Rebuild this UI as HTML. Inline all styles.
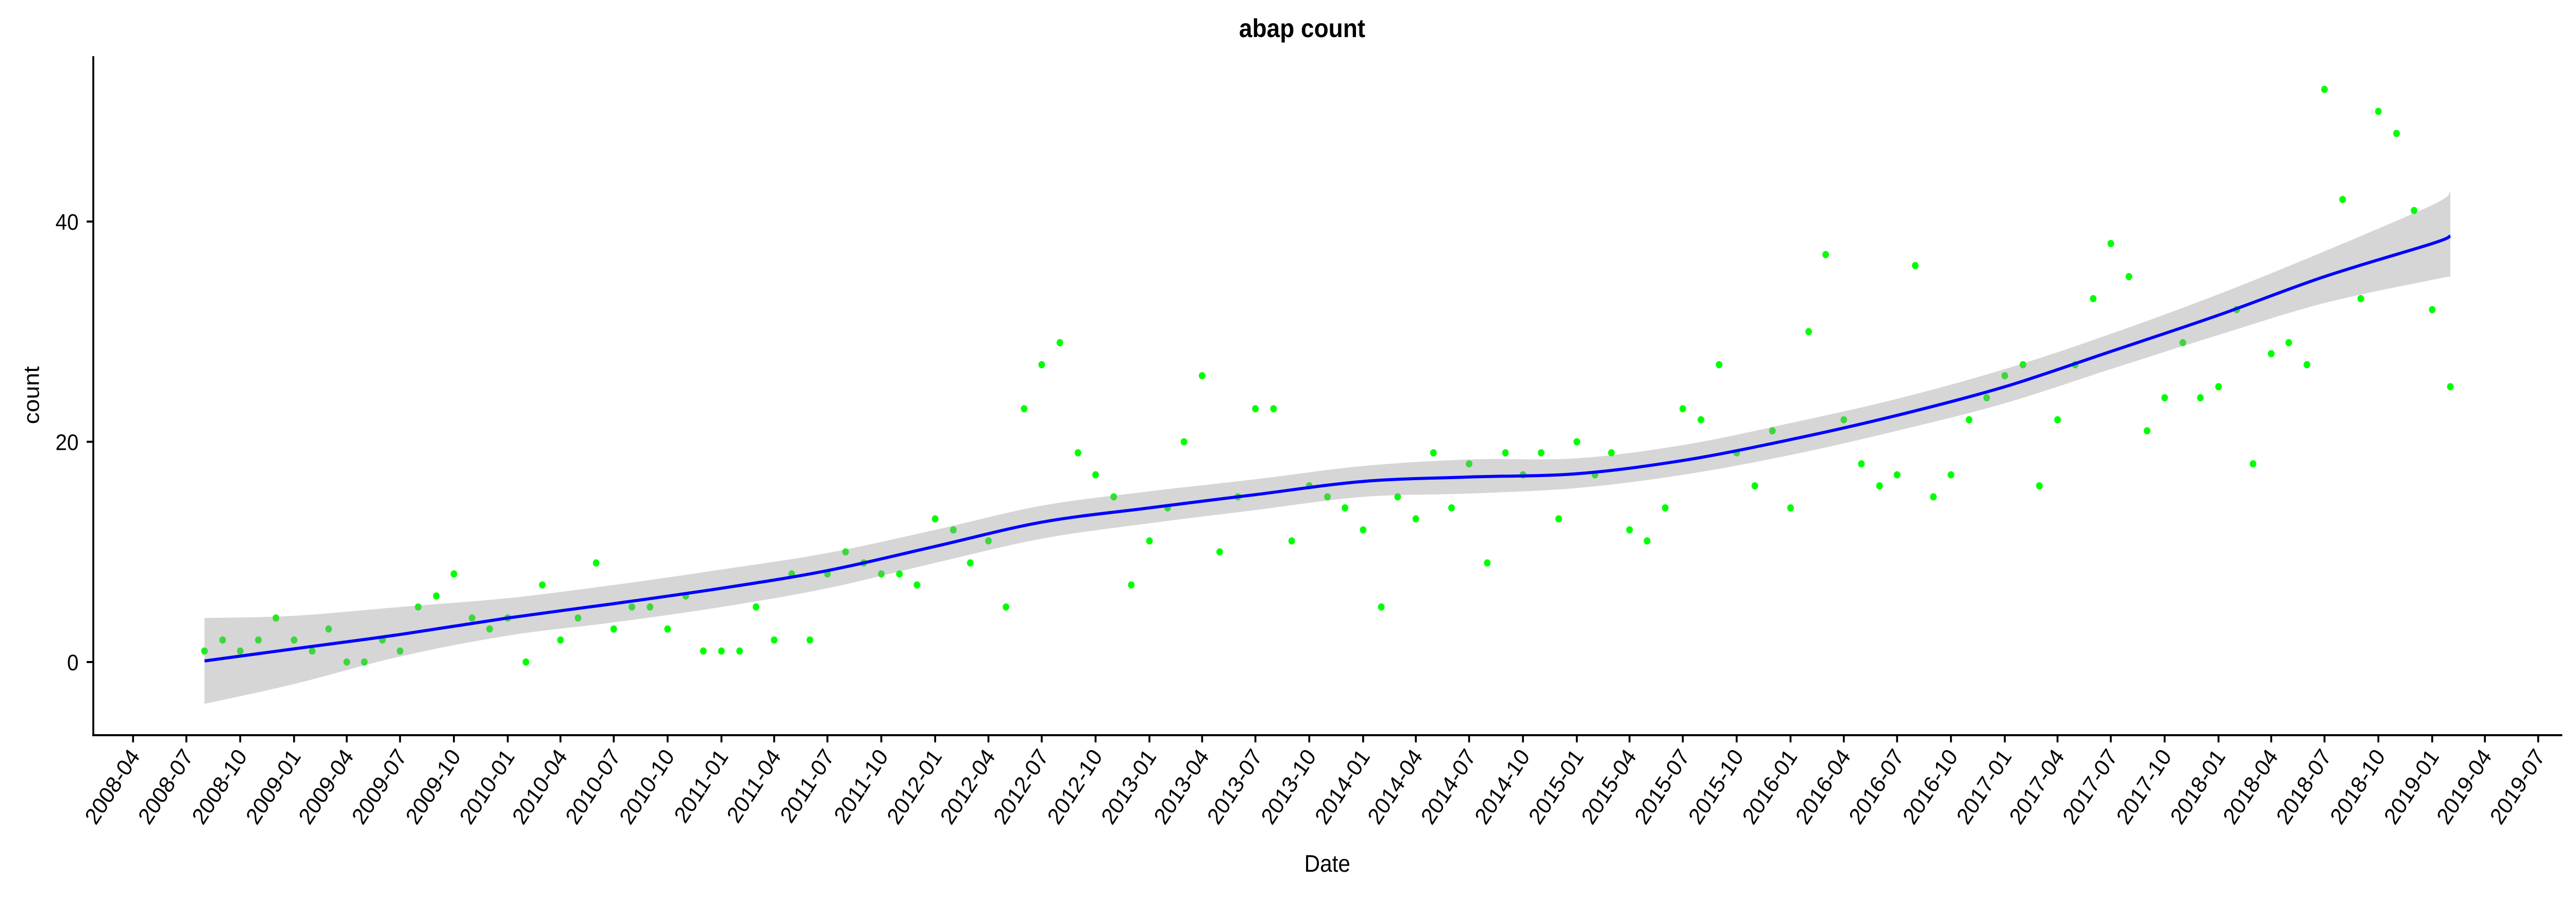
<!DOCTYPE html>
<html><head><meta charset="utf-8"><style>
html,body{margin:0;padding:0;background:#fff;width:100%;height:100%;overflow:hidden;}
svg{display:block;font-family:"Liberation Sans",sans-serif;width:100vw;height:100vh;}
</style></head><body>
<svg id="chart" viewBox="0 0 5440 1743" preserveAspectRatio="none" xmlns="http://www.w3.org/2000/svg">
<text x="2750" y="72" font-size="50" font-weight="bold" text-anchor="middle">abap count</text>
<text transform="translate(82,767) rotate(-90)" font-size="46" text-anchor="middle">count</text>
<text x="2803" y="1692" font-size="46" text-anchor="middle">Date</text>
<g id="points"></g>
<g id="band"></g>
<g id="line"></g>
<g id="axes"></g>
</svg>
<script>
const startMonth = "2008-08";
const counts = [1,2,1,2,4,2,1,3,0,0,2,1,5,6,8,4,3,4,0,7,2,4,9,3,5,5,3,6,1,1,1,5,2,8,2,8,10,9,8,8,7,13,12,9,11,5,23,27,29,19,17,15,7,11,14,20,26,10,15,23,23,11,16,15,14,12,5,15,13,19,14,18,9,19,17,19,13,20,17,19,12,11,14,23,22,27,19,16,21,14,30,37,22,18,16,17,36,15,17,22,24,26,27,16,22,27,33,38,35,21,24,29,24,25,32,18,28,29,27,52,42,33,50,48,41,32,25];
const fitDates = ["2008-08-01","2009-01-01","2009-07-01","2010-01-01","2010-07-01","2011-01-01","2011-07-01","2012-01-01","2012-07-01","2013-01-01","2013-07-01","2014-01-01","2014-07-01","2015-01-01","2015-07-01","2016-01-01","2016-07-01","2017-01-01","2017-07-01","2018-01-01","2018-07-01","2019-01-01","2019-02-01"];
const fitValues = [0.1,1.2,2.5,4.0,5.3,6.7,8.3,10.5,12.7,14.0,15.2,16.4,16.8,17.1,18.3,20.2,22.4,25.0,28.2,31.5,35.0,38.0,38.7];
const fitLower = [-3.8,-2.0,0.5,2.4,3.6,5.0,6.7,9.0,11.2,12.6,13.8,15.0,15.3,15.8,17.0,18.8,21.0,23.5,26.6,29.7,32.6,34.7,35.0];
const fitUpper = [4.0,4.2,5.0,5.8,7.0,8.4,9.9,12.0,14.2,15.5,16.6,17.8,18.4,18.5,19.7,21.7,23.9,26.6,29.8,33.4,37.3,41.5,42.7];
const xTickLabels = ["2008-04","2008-07","2008-10","2009-01","2009-04","2009-07","2009-10","2010-01","2010-04","2010-07","2010-10","2011-01","2011-04","2011-07","2011-10","2012-01","2012-04","2012-07","2012-10","2013-01","2013-04","2013-07","2013-10","2014-01","2014-04","2014-07","2014-10","2015-01","2015-04","2015-07","2015-10","2016-01","2016-04","2016-07","2016-10","2017-01","2017-04","2017-07","2017-10","2018-01","2018-04","2018-07","2018-10","2019-01","2019-04","2019-07"];
const yTickValues = [0,20,40];

const NS="http://www.w3.org/2000/svg";
const day=86400000, t0=Date.UTC(2008,3,1);
function xScale(d){const [y,m,dd]=d.split("-").map(Number);return 281+(Date.UTC(y,m-1,dd||1)-t0)/day*1.2364;}
function yScale(v){return 1285-v*21.375;}
function mk(tag,attrs,parent){const e=document.createElementNS(NS,tag);for(const k in attrs)e.setAttribute(k,attrs[k]);parent.appendChild(e);return e;}

const gp=document.getElementById("points");
const [sy,sm]=startMonth.split("-").map(Number);
counts.forEach((c,i)=>{
  const mo=sm-1+i, yy=sy+Math.floor(mo/12), mm=mo%12+1;
  const d=yy+"-"+String(mm).padStart(2,"0")+"-01";
  const e=mk("circle",{cx:xScale(d),cy:yScale(c),r:7,fill:"#00ff00"},gp);
  
  
});

function smoothPath(pts){
  let s="M"+pts[0][0]+","+pts[0][1];
  for(let i=0;i<pts.length-1;i++){
    const p0=pts[Math.max(0,i-1)],p1=pts[i],p2=pts[i+1],p3=pts[Math.min(pts.length-1,i+2)];
    const c1=[p1[0]+(p2[0]-p0[0])/6,p1[1]+(p2[1]-p0[1])/6];
    const c2=[p2[0]-(p3[0]-p1[0])/6,p2[1]-(p3[1]-p1[1])/6];
    s+=" C"+c1+" "+c2+" "+p2;
  }
  return s;
}
const up=fitDates.map((d,i)=>[xScale(d),yScale(fitUpper[i])]);
const lo=fitDates.map((d,i)=>[xScale(d),yScale(fitLower[i])]).reverse();
const bandPath=smoothPath(up)+" L"+lo[0]+smoothPath(lo).replace(/^M[^ ]+/,"")+" Z";
const band=mk("path",{d:bandPath,fill:"#999999","fill-opacity":0.4,stroke:"none"},document.getElementById("band"));


const fl=mk("path",{d:smoothPath(fitDates.map((d,i)=>[xScale(d),yScale(fitValues[i])])),fill:"none",stroke:"#0000ff","stroke-width":6},document.getElementById("line"));



const ga=document.getElementById("axes");
const yl=mk("line",{x1:197,y1:109,x2:197,y2:1429,stroke:"#000","stroke-width":4},ga);


const xl=mk("line",{x1:195,y1:1427,x2:5411,y2:1427,stroke:"#000","stroke-width":4},ga);


yTickValues.forEach(v=>{
  const y=yScale(v);
  const t=mk("line",{x1:183,y1:y,x2:197,y2:y,stroke:"#000","stroke-width":4},ga);
  
  
  const l=mk("text",{x:166,y:y+16,"font-size":44,"text-anchor":"end"},ga);
  l.textContent=v;
  
  
});
xTickLabels.forEach(s=>{
  const x=xScale(s+"-01");
  const t=mk("line",{x1:x,y1:1427,x2:x,y2:1441,stroke:"#000","stroke-width":4},ga);
  
  
  const l=mk("text",{transform:"translate("+(x+16)+",1468) rotate(-55)","font-size":45,"text-anchor":"end"},ga);
  l.textContent=s;
  
  
});
</script>
</body></html>
